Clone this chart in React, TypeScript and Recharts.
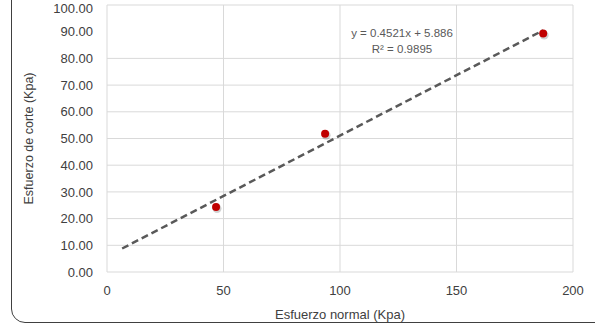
import React from "react";
import {
  ScatterChart,
  Scatter,
  XAxis,
  YAxis,
  CartesianGrid,
  Label,
} from "recharts";

const normalStress = [46.8, 93.6, 187.2];
const shearStress = [24.3, 51.8, 89.3];
const trendX = [6.5, 187.2];
const trendY = [8.8, 90.5];
const xTicks = [0, 50, 100, 150, 200];
const yTicks = [0, 10, 20, 30, 40, 50, 60, 70, 80, 90, 100];
const equationText = "y = 0.4521x + 5.886";
const r2Text = "R² = 0.9895";

const points = normalStress.map((x, i) => ({ x, y: shearStress[i] }));
const trend = trendX.map((x, i) => ({ x, y: trendY[i] }));

const FONT = "'Liberation Sans', Arial, sans-serif";

const RedDot = (props: any) => {
  const { cx, cy } = props;
  return (
    <g>
      <circle cx={cx + 1} cy={cy + 1.5} r={4.5} fill="rgba(0,0,0,0.18)" />
      <circle cx={cx} cy={cy} r={4} fill="#c00000" />
    </g>
  );
};

export default function App() {
  return (
    <div style={{ position: "absolute", left: 0, top: 0, width: 595, height: 325, background: "#fff", overflow: "hidden" }}>
      <div
        style={{
          position: "absolute",
          left: 11,
          top: -30,
          width: 600,
          height: 353,
          border: "1.3px solid #404040",
          borderRadius: 14,
          boxSizing: "border-box",
        }}
      />
      <div style={{ position: "absolute", left: 0, top: 0 }}>
        <ScatterChart
          width={595}
          height={325}
          margin={{ top: 5, right: 22, bottom: 0, left: 0 }}
          style={{ fontFamily: FONT }}
        >
          <CartesianGrid stroke="#d9d9d9" strokeWidth={1} horizontalValues={yTicks} verticalValues={xTicks} />
          <XAxis
            type="number"
            dataKey="x"
            domain={[0, 200]}
            ticks={xTicks}
            axisLine={false}
            tickLine={false}
            tickSize={0}
            tickMargin={14}
            height={53}
            tick={{ fill: "#404040", fontSize: 13, fontFamily: FONT }}
          >
            <Label
              value="Esfuerzo normal (Kpa)"
              position="insideBottom"
              offset={6}
              style={{ fill: "#404040", fontSize: 13, fontFamily: FONT }}
            />
          </XAxis>
          <YAxis
            type="number"
            dataKey="y"
            domain={[0, 100]}
            ticks={yTicks}
            axisLine={false}
            tickLine={false}
            tickSize={0}
            tickMargin={14}
            width={107}
            tickFormatter={(v: number) => v.toFixed(2)}
            tick={{ fill: "#404040", fontSize: 13, fontFamily: FONT }}
          >
            <Label
              content={(p: any) => {
                const vb = p.viewBox;
                const cx = vb.x + 29;
                const cy = vb.y + vb.height / 2;
                return (
                  <text
                    x={cx}
                    y={cy}
                    transform={`rotate(-90, ${cx}, ${cy})`}
                    textAnchor="middle"
                    dominantBaseline="central"
                    fill="#404040"
                    fontSize={12.5}
                    fontFamily={FONT}
                  >
                    Esfuerzo de corte (Kpa)
                  </text>
                );
              }}
            />
          </YAxis>
          <Scatter
            data={trend}
            line={{ stroke: "#595959", strokeWidth: 2.5, strokeDasharray: "7 4" }}
            shape={() => <g />}
            isAnimationActive={false}
          />
          <Scatter data={points} shape={RedDot} isAnimationActive={false} />
        </ScatterChart>
        <div
          style={{
            position: "absolute",
            left: 350,
            top: 25,
            width: 104,
            textAlign: "center",
            fontFamily: FONT,
            fontSize: 11.5,
            color: "#595959",
            lineHeight: "16px",
          }}
        >
          <div>{equationText}</div>
          <div>{r2Text}</div>
        </div>
      </div>
    </div>
  );
}
